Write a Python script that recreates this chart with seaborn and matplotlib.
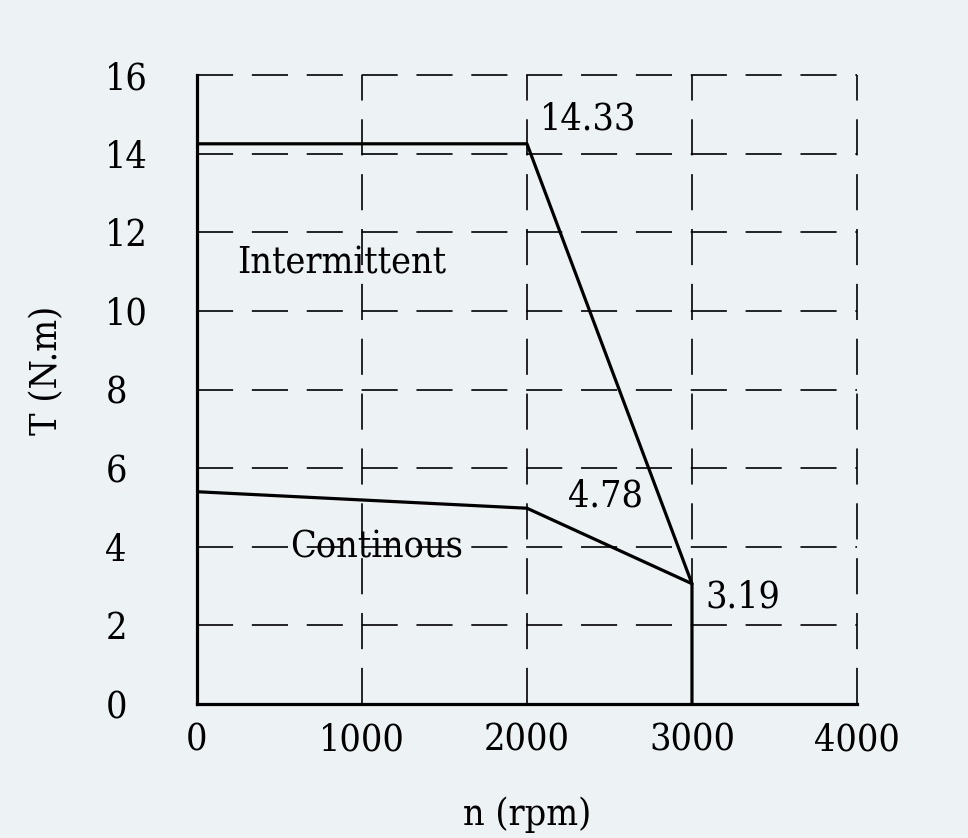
import matplotlib
matplotlib.use("Agg")
import matplotlib.pyplot as plt
import seaborn as sns
import pandas as pd

# torque-speed curve values
speed_int = [0, 2000, 3000]
torque_int = [14.25, 14.25, 3.06]
speed_cont = [0, 2000, 3000, 3000]
torque_cont = [5.4, 4.98, 3.06, 0]
x_ticks = [0, 1000, 2000, 3000, 4000]
y_ticks = [0, 2, 4, 6, 8, 10, 12, 14, 16]
point_labels = ["14.33", "4.78", "3.19"]
point_pos = [(2080, 14.86), (2250, 5.27), (3080, 2.70)]
region_labels = ["Intermittent", "Continous"]
region_pos = [(245, 11.2), (565, 3.99)]

bg = "#EDF2F5"
sns.set_style("white", {"axes.facecolor": bg, "figure.facecolor": bg})
plt.rcParams["font.family"] = ["DejaVu Serif"]
plt.rcParams["font.stretch"] = "condensed"
plt.rcParams["text.color"] = "black"
plt.rcParams["xtick.color"] = "black"
plt.rcParams["ytick.color"] = "black"
plt.rcParams["axes.labelcolor"] = "black"

fs = 27

fig = plt.figure(figsize=(9.68, 8.38), dpi=100)
ax = fig.add_axes([0.2035, 0.1599, 0.6818, 0.7506])

df_int = pd.DataFrame({"n": speed_int, "T": torque_int})
df_cont = pd.DataFrame({"n": speed_cont, "T": torque_cont})
sns.lineplot(data=df_int, x="n", y="T", sort=False, estimator=None,
             color="black", lw=2.3, ax=ax, zorder=5)
sns.lineplot(data=df_cont, x="n", y="T", sort=False, estimator=None,
             color="black", lw=2.3, ax=ax, zorder=5)

ax.set_xlim(0, 4000)
ax.set_ylim(0, 16)
ax.set_xticks(x_ticks)
ax.set_yticks(y_ticks)

# dashed grid, including the top and right edges
lw = 1.2
dash = (0, (26 / lw, 13.5 / lw))
for v in x_ticks[1:]:
    ax.axvline(v, color="black", lw=lw, linestyle=dash, zorder=2, clip_on=False)
for v in y_ticks[1:]:
    ax.axhline(v, color="black", lw=lw, linestyle=dash, zorder=2, clip_on=False)

for s in ["top", "right"]:
    ax.spines[s].set_visible(False)
for s in ["left", "bottom"]:
    ax.spines[s].set_linewidth(2.3)
    ax.spines[s].set_color("black")
    ax.spines[s].set_zorder(6)

ax.tick_params(length=0, labelsize=fs)
ax.tick_params(axis="x", pad=13)
ax.tick_params(axis="y", pad=66)
for t in ax.get_yticklabels():
    t.set_horizontalalignment("left")
ax.set_xlabel("n (rpm)", fontsize=fs, labelpad=28)
ax.set_ylabel("T (N.m)", fontsize=fs)
ax.yaxis.set_label_coords(-0.20, 0.53)

for txt, (x, y) in zip(point_labels, point_pos):
    ax.text(x, y, txt, fontsize=fs, va="center", ha="left")
for txt, (x, y) in zip(region_labels, region_pos):
    ax.text(x, y, txt, fontsize=fs, va="center", ha="left")

fig.savefig("out.png", dpi=100, facecolor=bg)
